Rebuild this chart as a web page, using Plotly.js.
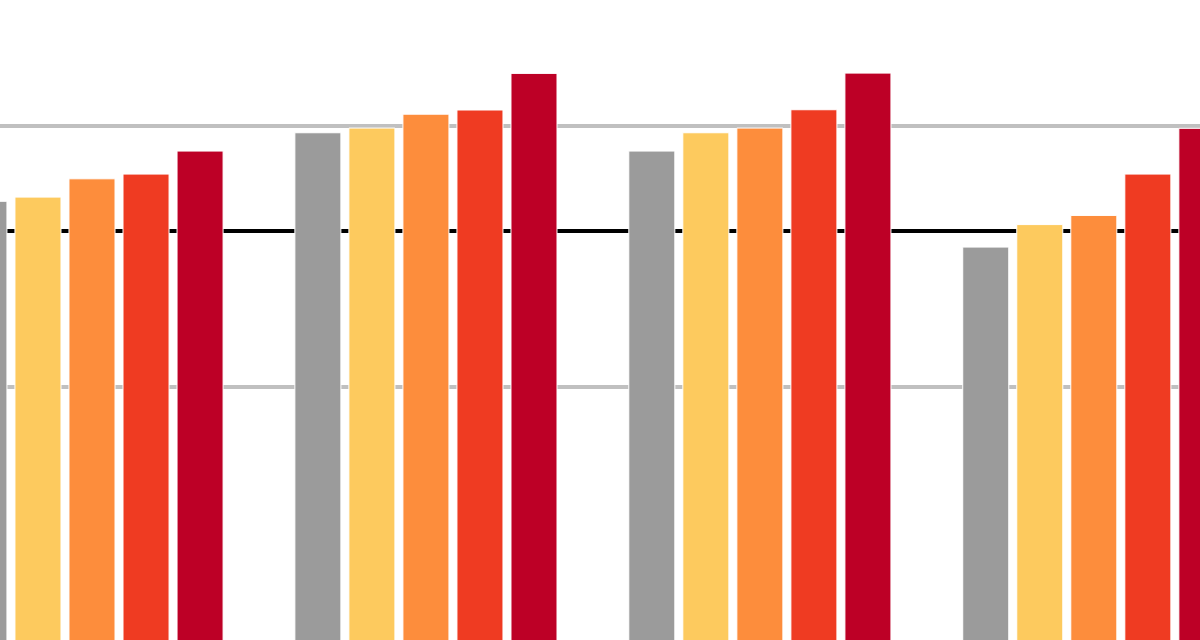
<!DOCTYPE html>
<html>
<head>
<meta charset="utf-8">
<script src="https://cdn.plot.ly/plotly-3.0.1.min.js"></script>
<style>
  html, body {margin: 0; padding: 0; background: #ffffff;}
  #graphe {width: 1200px; height: 640px;}
</style>
</head>
<body>
<div id="graphe"></div>
<script>
// four groups, five series each
let groupes = [0, 1, 2, 3]
let serie_gris = [27.11, 29.73, 29.03, 25.36]
let serie_jaune = [27.27, 29.91, 29.73, 26.22]
let serie_orange = [27.97, 30.44, 29.91, 26.57]
let serie_rouge = [28.15, 30.60, 30.61, 28.15]
let serie_bordeaux = [29.03, 32.00, 32.01, 29.90]
let ligne_reference = 25.97

let couleurs = ["#9b9b9b", "#fdca5e", "#fd8d3c", "#ef3b22", "#bd0026"]
let series = [serie_gris, serie_jaune, serie_orange, serie_rouge, serie_bordeaux]

let data = new Array()
for (let i = 0; i < series.length; i++){
    data.push({
        x: groupes, y: series[i], type: "bar", showlegend: false,
        marker: {color: couleurs[i], line: {width: 1, color: "#ffffff"}},
        hoverinfo: "skip"
    })
}

let layout = {
    width: 1200,
    height: 640,
    barmode: "group",
    bargap: 0.191,
    bargroupgap: 0.148,
    paper_bgcolor: "#ffffff",
    plot_bgcolor: "#ffffff",
    margin: {l: 0, r: 0, t: 0, b: 0, pad: 0},
    xaxis: {
        range: [-0.2755, 3.318],
        showgrid: false,
        zeroline: false,
        showticklabels: false,
        ticks: ""
    },
    yaxis: {
        range: [10.34, 34.805],
        dtick: 10,
        tick0: 0,
        showgrid: true,
        gridcolor: "#c0c0c0",
        gridwidth: 4,
        zeroline: false,
        showticklabels: false,
        ticks: ""
    },
    shapes: [{
        type: "line", xref: "paper", x0: 0, x1: 1,
        yref: "y", y0: ligne_reference, y1: ligne_reference,
        line: {color: "#000000", width: 4}, layer: "below"
    }]
}

Plotly.newPlot("graphe", data, layout, {staticPlot: true})
</script>
</body>
</html>
